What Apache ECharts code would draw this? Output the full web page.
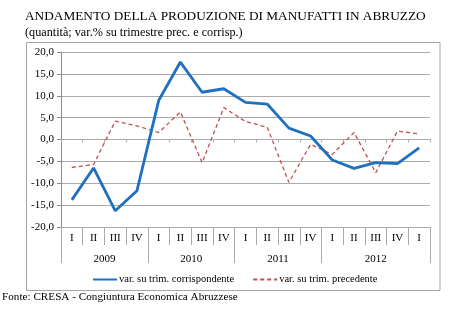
<!DOCTYPE html>
<html>
<head>
<meta charset="utf-8">
<script src="https://cdn.jsdelivr.net/npm/echarts@6/dist/echarts.min.js"></script>
<style>
  html, body { margin: 0; padding: 0; background: #fff; }
  #chart { width: 462px; height: 321px; }
</style>
</head>
<body>
<div id="chart"></div>
<script>
// Quarter labels along the category axis (2009 Q1 .. 2013 Q1)
const quarters = ['I','II','III','IV','I','II','III','IV','I','II','III','IV','I','II','III','IV','I'];
// Year groups: label, first quarter index, number of quarters spanned
const years = ['2009', '2010', '2011', '2012'];
const yearStart = [0, 4, 8, 12];
const yearSpan = [4, 4, 4, 5];
// Y axis ticks
const yTicks = [-20, -15, -10, -5, 0, 5, 10, 15, 20];

// % change on same quarter of previous year
const varCorrispondente = [-13.8, -6.5, -16.3, -11.7, 8.9, 17.7, 10.8, 11.6, 8.5, 8.1, 2.6, 0.8, -4.7, -6.6, -5.3, -5.5, -1.9];
// % change on previous quarter
const varPrecedente = [-6.4, -5.7, 4.2, 3.1, 1.6, 6.3, -5.3, 7.3, 4.1, 2.8, -9.8, -1.1, -3.4, 1.6, -7.6, 1.9, 1.3];

const serif = 'Liberation Serif, Times New Roman, serif';
const gridColor = '#ababab';

// Year label positions sit at the centre of each group of quarters
const yearCenters = years.map((y, i) => yearStart[i] + yearSpan[i] / 2);
const yearBounds = yearStart.concat([yearStart[yearStart.length - 1] + yearSpan[yearSpan.length - 1]]);

const chart = echarts.init(document.getElementById('chart'), null, { renderer: 'canvas' });

chart.setOption({
  animation: false,
  backgroundColor: '#fff',
  textStyle: { fontFamily: serif },
  title: [
    {
      text: 'ANDAMENTO DELLA PRODUZIONE DI MANUFATTI IN ABRUZZO',
      left: 25, top: 10, padding: 0,
      textStyle: { fontFamily: serif, fontSize: 13.3, fontWeight: 'normal', color: '#000' }
    },
    {
      text: '(quantità; var.% su trimestre prec. e corrisp.)',
      left: 25, top: 27, padding: 0,
      textStyle: { fontFamily: serif, fontSize: 12.2, fontWeight: 'normal', color: '#000' }
    },
    {
      text: 'Fonte: CRESA - Congiuntura Economica Abruzzese',
      left: 2, top: 292, padding: 0,
      textStyle: { fontFamily: serif, fontSize: 11.2, fontWeight: 'normal', color: '#000' }
    }
  ],
  graphic: [
    {
      type: 'rect',
      shape: { x: 26.5, y: 42.5, width: 413.5, height: 248 },
      style: { fill: 'none', stroke: '#a6a6a6', lineWidth: 1 },
      z: -1
    }
  ],
  legend: {
    left: 92, top: 274, padding: 0,
    itemWidth: 24, itemHeight: 10, itemGap: 18,
    itemStyle: { opacity: 0 },
    textStyle: { fontFamily: serif, fontSize: 10.5, color: '#000', padding: [0, 0, 0, -3] },
    data: ['var. su trim. corrispondente', 'var. su trim. precedente']
  },
  grid: { left: 61, right: 32, top: 52, bottom: 94, containLabel: false },
  xAxis: [
    {
      // quarters
      type: 'category',
      data: quarters,
      position: 'bottom',
      boundaryGap: true,
      axisLine: { onZero: false, lineStyle: { color: gridColor, width: 1 } },
      axisTick: { show: true, interval: 0, length: 18, lineStyle: { color: gridColor } },
      axisLabel: { interval: 0, margin: 6, fontFamily: serif, fontSize: 11, color: '#000' },
      splitLine: { show: false }
    },
    {
      // years
      type: 'value',
      min: 0, max: quarters.length,
      position: 'bottom',
      axisLine: { show: false, onZero: false },
      axisTick: { show: true, customValues: yearBounds, length: 36, lineStyle: { color: gridColor } },
      axisLabel: {
        customValues: yearCenters,
        margin: 27,
        fontFamily: serif, fontSize: 11, color: '#000',
        formatter: function (v) {
          const i = yearCenters.indexOf(v);
          return i >= 0 ? years[i] : '';
        }
      },
      splitLine: { show: false }
    },
    {
      // small marks on the zero line
      type: 'category',
      data: quarters,
      boundaryGap: true,
      axisLine: { onZero: true, lineStyle: { color: gridColor } },
      axisTick: { show: true, inside: true, interval: 0, length: 3, lineStyle: { color: gridColor } },
      axisLabel: { show: false },
      splitLine: { show: false }
    }
  ],
  yAxis: {
    type: 'value',
    min: yTicks[0], max: yTicks[yTicks.length - 1], interval: 5,
    axisLine: { show: true, onZero: false, lineStyle: { color: '#8c8c8c' } },
    axisTick: { show: true, length: 4, lineStyle: { color: '#8c8c8c' } },
    axisLabel: {
      margin: 7, fontFamily: serif, fontSize: 11, color: '#000',
      formatter: v => v.toFixed(1).replace('.', ',')
    },
    splitLine: { show: true, lineStyle: { color: gridColor, width: 1.2 } }
  },
  series: [
    {
      name: 'var. su trim. corrispondente',
      type: 'line',
      xAxisIndex: 0,
      data: varCorrispondente,
      symbol: 'none',
      lineStyle: { color: '#1f70c1', width: 2.8 },
      itemStyle: { color: '#1f70c1' },
      z: 3
    },
    {
      name: 'var. su trim. precedente',
      type: 'line',
      xAxisIndex: 0,
      data: varPrecedente,
      symbol: 'none',
      lineStyle: { color: '#c0504d', width: 1.3, type: [4, 3] },
      itemStyle: { color: '#c0504d' },
      z: 2
    }
  ]
});
</script>
</body>
</html>
